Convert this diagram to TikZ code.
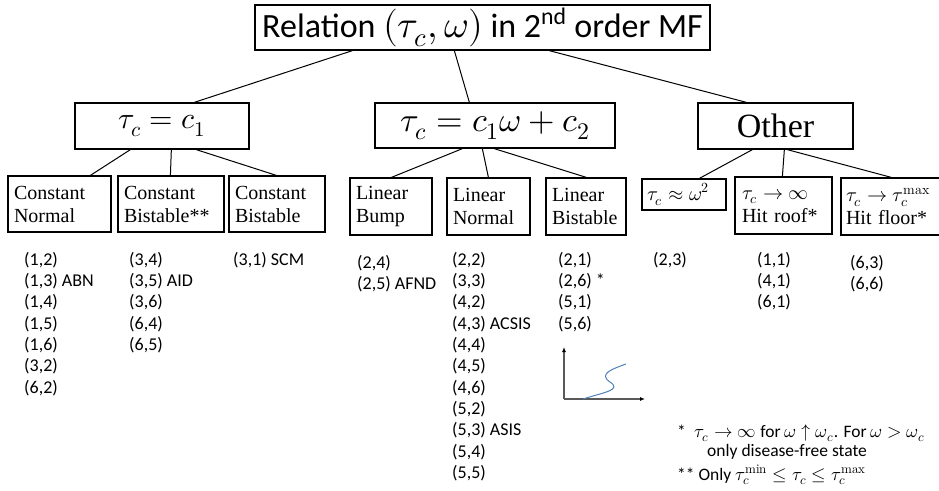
\documentclass[tikz,border=0pt]{standalone}
\usepackage{fontspec}
\usepackage{unicode-math}
\setmainfont{Carlito}
\newfontfamily\tnr{Liberation Serif}
\usetikzlibrary{arrows.meta}
\definecolor{curveblue}{RGB}{79,129,189}
\definecolor{axisgray}{RGB}{89,89,89}
\newcommand\fnm[1]{{\fontsize{18.5}{18}\selectfont$#1$}}
\tikzset{
  bigbox/.style={draw, line width=1.3pt, inner sep=0pt},
  smallbox/.style={draw, line width=1.2pt, inner xsep=6pt, inner ysep=0pt, align=left,
    font=\tnr\fontsize{20}{23}\selectfont},
  conn/.style={line width=1pt},
  lst/.style={anchor=north west, align=left, inner sep=0pt, font=\fontsize{18}{21.3}\selectfont},
  fnote/.style={anchor=base west, inner sep=0pt, font=\fontsize{17.5}{18}\selectfont},
}
\begin{document}
\begin{tikzpicture}[x=1pt,y=-1pt]
\clip (0,0) rectangle (939,490);
\fill[white] (0,0) rectangle (939,490);
% top
\node[bigbox, minimum width=455pt, minimum height=45pt, font=\fontsize{34}{36}\selectfont] (top) at (482.5,27.5)
  {Relation {\fontsize{38}{36}\selectfont$(\tau_c,\omega)$} in 2\textsuperscript{nd} order MF};
% level 2
\node[bigbox, minimum width=174pt, minimum height=46pt, font=\fontsize{30}{36}\selectfont] (c1) at (162,126) {$\tau_c = c_1$};
\node[bigbox, minimum width=240pt, minimum height=45pt, font=\fontsize{34}{36}\selectfont] (lin) at (495,125.5) {$\tau_c = c_1\omega + c_2$};
\node[bigbox, minimum width=155pt, minimum height=46pt, font=\tnr\fontsize{34}{36}\selectfont] (oth) at (775.5,126) {Other};
% level 3
\node[smallbox, text width=91pt, minimum height=56pt] (cn) at (59.5,204) {Constant\\Normal};
\node[smallbox, text width=94pt, minimum height=56pt] (cb2) at (171,204) {Constant\\Bistable**};
\node[smallbox, text width=84pt, minimum height=56pt] (cb) at (277,204) {Constant\\Bistable};
\node[smallbox, text width=70pt, minimum height=57pt] (lb) at (391,206.5) {Linear\\Bump};
\node[smallbox, text width=71pt, minimum height=57pt] (ln) at (488.5,206.5) {Linear\\Normal};
\node[smallbox, text width=68pt, minimum height=57pt] (lbi) at (586,206.5) {Linear\\Bistable};
\node[smallbox, inner xsep=5pt, text width=74pt, minimum height=31pt] (sq) at (684,194.5) {$\tau_c \approx \omega^2$};
\node[smallbox, inner xsep=7pt, text width=83pt, minimum height=57pt] (hr) at (783.5,205.5) {$\tau_c \to \infty$\\Hit roof*};
\node[smallbox, inner xsep=5pt, text width=100pt, minimum height=57pt] (hf) at (896,206.5) {$\tau_c \to \tau_c^{\symup{max}}$\\Hit floor*};
% connectors top -> level 2
\draw[conn] ([xshift=98pt]top.south west) -- ([xshift=120pt]c1.north west);
\draw[conn] ([xshift=200pt]top.south west) -- ([xshift=95pt]lin.north west);
\draw[conn] ([xshift=295pt]top.south west) -- ([xshift=49pt]oth.north west);
% level 2 -> level 3
\draw[conn] ([xshift=56pt]c1.south west) -- ([xshift=83pt]cn.north west);
\draw[conn] ([xshift=97pt]c1.south west) -- ([xshift=53pt]cb2.north west);
\draw[conn] ([xshift=122pt]c1.south west) -- ([xshift=48pt]cb.north west);
\draw[conn] ([xshift=88pt]lin.south west) -- ([xshift=42pt]lb.north west);
\draw[conn] ([xshift=108pt]lin.south west) -- ([xshift=42pt]ln.north west);
\draw[conn] ([xshift=120pt]lin.south west) -- ([xshift=41pt]lbi.north west);
\draw[conn] ([xshift=55pt]oth.south west) -- ([xshift=58pt]sq.north west);
\draw[conn] ([xshift=87pt]oth.south west) -- ([xshift=48pt]hr.north west);
\draw[conn] ([xshift=90pt]oth.south west) -- ([xshift=51pt]hf.north west);
% lists
\node[lst] (l1) at (24,252) {(1,2)\\(1,3) ABN\\(1,4)\\(1,5)\\(1,6)\\(3,2)\\(6,2)};
\node[lst] (l2) at (129,252) {(3,4)\\(3,5) AID\\(3,6)\\(6,4)\\(6,5)};
\node[lst] (l3) at (233,252) {(3,1) SCM};
\node[lst] (l4) at (357,255) {(2,4)\\(2,5) AFND};
\node[lst] (l5) at (452,252) {(2,2)\\(3,3)\\(4,2)\\(4,3) ACSIS\\(4,4)\\(4,5)\\(4,6)\\(5,2)\\(5,3) ASIS\\(5,4)\\(5,5)};
\node[lst] (l6) at (558,252) {(2,1)\\(2,6) *\\(5,1)\\(5,6)};
\node[lst] (l7) at (653,252) {(2,3)};
\node[lst] (l8) at (757,252) {(1,1)\\(4,1)\\(6,1)};
\node[lst] (l9) at (850,255) {(6,3)\\(6,6)};
% small graph
\coordinate (gorig) at (564,399);
\coordinate (gy) at (564,347);
\coordinate (gx) at (645,399);
\draw[axisgray, line width=1.2pt, -{Latex[length=5pt,width=4pt,black]}] (gorig) -- (gy);
\draw[axisgray, line width=1.2pt, -{Latex[length=5pt,width=4pt,black]}] (gorig) -- (gx);
\draw[curveblue, line width=1pt] (583,399) .. controls (605,392) and (622,390) .. (610,382)
  .. controls (598,374) and (612,369) .. (626,364);
% footnotes
\node[fnote] (f1) at (677,437) {*\enspace \fnm{\tau_c \to \infty} for \fnm{\omega \uparrow \omega_c}. For \fnm{\omega > \omega_c}};
\node[fnote] (f2) at (707,456) {only disease-free state};
\node[fnote] (f3) at (677,480) {** Only \fnm{\tau_c^{\symup{min}} \le \tau_c \le \tau_c^{\symup{max}}}};
\end{tikzpicture}
\end{document}
